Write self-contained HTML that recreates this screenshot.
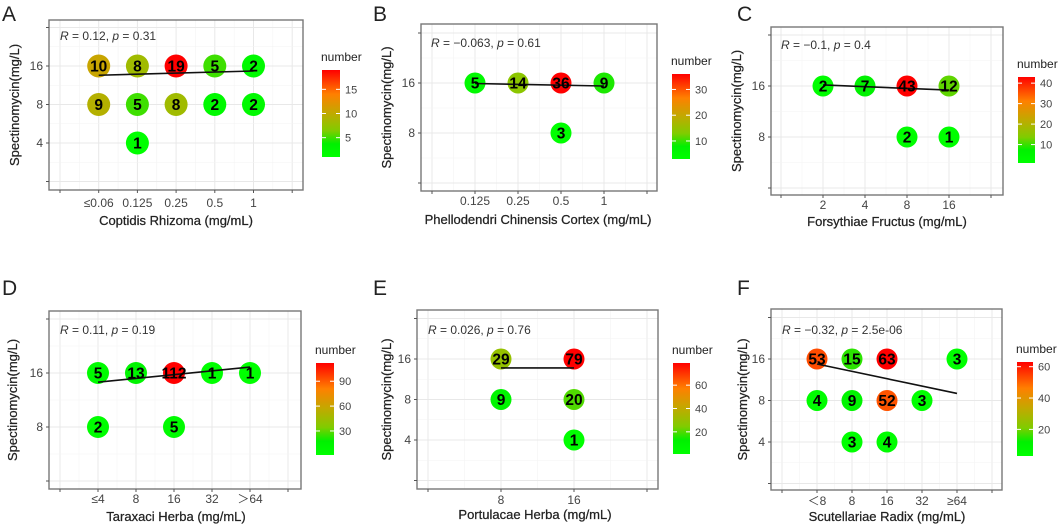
<!DOCTYPE html>
<html><head><meta charset="utf-8">
<style>
html,body{margin:0;padding:0;background:#fff;}
svg{display:block;font-family:"Liberation Sans","DejaVu Sans",sans-serif;}
</style></head>
<body>
<svg id="fig" width="1059" height="525" viewBox="0 0 1059 525" xmlns="http://www.w3.org/2000/svg">
<defs>
<linearGradient id="cg" x1="0" y1="1" x2="0" y2="0">
<stop offset="0" stop-color="#00ff00"/><stop offset="0.15" stop-color="#00f000"/>
<stop offset="0.3" stop-color="#80cc00"/><stop offset="0.5" stop-color="#c0aa00"/>
<stop offset="0.72" stop-color="#ff8000"/><stop offset="1" stop-color="#ff0000"/>
</linearGradient>
</defs>
</svg>
<script>
// Panel A
const catsA=['≤0.06','0.125','0.25','0.5','1'];
const xA=[1,2,3,4,5,1,2,3,4,5,2];
const yA=[16,16,16,16,16,8,8,8,8,8,4];
const nA=[10,8,19,5,2,9,5,8,2,2,1];
const fitA=[3.76,3.87];
const legA=[5,10,15];
// Panel B
const catsB=['0.125','0.25','0.5','1'];
const xB=[1,2,3,4,3];
const yB=[16,16,16,16,8];
const nB=[5,14,36,9,3];
const fitB=[3.99,3.94];
const legB=[10,20,30];
// Panel C
const catsC=['2','4','8','16'];
const xC=[1,2,3,4,3,4];
const yC=[16,16,16,16,8,8];
const nC=[2,7,43,12,2,1];
const fitC=[4.02,3.92];
const legC=[10,20,30,40];
// Panel D
const catsD=['≤4','8','16','32','＞64'];
const xD=[1,2,3,4,5,1,3];
const yD=[16,16,16,16,16,8,8];
const nD=[5,13,112,1,1,2,5];
const fitD=[3.83,4.11];
const legD=[30,60,90];
// Panel E
const catsE=['8','16'];
const xE=[1,2,1,2,2];
const yE=[16,16,8,8,4];
const nE=[29,79,9,20,1];
const fitE=[3.78,3.78];
const legE=[20,40,60];
// Panel F
const catsF=['＜8','8','16','32','≥64'];
const xF=[1,2,3,5,1,2,3,4,2,3];
const yF=[16,16,16,16,8,8,8,8,4,4];
const nF=[53,15,63,3,4,9,52,3,3,4];
const fitF=[3.88,3.17];
const legF=[20,40,60];

const NS='http://www.w3.org/2000/svg';
const svg=document.getElementById('fig');
function mk(tag,attrs,parent,text){const e=document.createElementNS(NS,tag);for(const k in attrs)e.setAttribute(k,attrs[k]);if(text!==undefined)e.textContent=text;(parent||svg).appendChild(e);return e;}
const stops=[[0,[0,255,0]],[0.15,[0,240,0]],[0.3,[128,204,0]],[0.5,[200,165,0]],[0.72,[255,128,0]],[1,[255,0,0]]];
function col(t){t=Math.max(0,Math.min(1,t));for(let i=1;i<stops.length;i++){if(t<=stops[i][0]){const a=stops[i-1],b=stops[i];const f=(t-a[0])/(b[0]-a[0]);const c=a[1].map((v,j)=>Math.round(v+(b[1][j]-v)*f));return 'rgb('+c.join(',')+')';}}return 'rgb(255,0,0)';}

function panel(P){
  const g=mk('g',{});
  
  
  const xs=i=>P.x0+i*P.xs;
  const ys=v=>P.y16-(Math.log2(v)-4)*P.sp;
  const yl=l=>P.y16-(l-4)*P.sp;
  const L=mk('text',{x:P.lx,y:P.ly,'font-size':21,fill:'#222'},g,P.id);
  
  mk('rect',{x:P.bx,y:P.by,width:P.bw,height:P.bh,fill:'#fff'},g);
  const n=P.cats.length;
  for(let i=0;i<=n+1;i++){mk('line',{x1:xs(i),x2:xs(i),y1:P.by,y2:P.by+P.bh,stroke:'#e8e8e8','stroke-width':1},g);
    if(i<=n) mk('line',{x1:xs(i+0.5),x2:xs(i+0.5),y1:P.by,y2:P.by+P.bh,stroke:'#f3f3f3','stroke-width':0.6},g);}
  for(let l=P.yLo;l<=5;l++){mk('line',{x1:P.bx,x2:P.bx+P.bw,y1:yl(l),y2:yl(l),stroke:'#e8e8e8','stroke-width':1},g);
    if(l<5) mk('line',{x1:P.bx,x2:P.bx+P.bw,y1:yl(l+0.5),y2:yl(l+0.5),stroke:'#f3f3f3','stroke-width':0.6},g);}
  const br=mk('rect',{x:P.bx,y:P.by,width:P.bw,height:P.bh,fill:'none',stroke:'#777','stroke-width':1.4},g);
  
  for(let i=0;i<=n+1;i++){mk('line',{x1:xs(i),x2:xs(i),y1:P.by+P.bh,y2:P.by+P.bh+3,stroke:'#555'},g);
    if(i>=1&&i<=n){const t=mk('text',{x:xs(i),y:P.tly,'font-size':12,fill:'#444','text-anchor':'middle'},g,P.cats[i-1]);
      }}
  for(let l=P.yLo;l<=5;l++){mk('line',{x1:P.bx-3,x2:P.bx,y1:yl(l),y2:yl(l),stroke:'#555'},g);
    if(l<5&&l>P.yLo){const t=mk('text',{x:P.bx-6,y:yl(l)+4,'font-size':12,fill:'#444','text-anchor':'end'},g,String(Math.pow(2,l)));
      }}
  const xt=mk('text',{x:P.xtx,y:P.xty,'font-size':13,fill:'#222','text-anchor':'middle','stroke':'#222','stroke-width':0.25},g,P.xtitle);
  
  const cy=P.by+P.bh/2;
  const yt=mk('text',{x:0,y:0,'font-size':13,fill:'#222','stroke':'#222','stroke-width':0.25,'text-anchor':'middle',transform:'translate('+(P.ytx+4)+','+cy+') rotate(-90)'},g,'Spectinomycin(mg/L)');
  
  const an=mk('text',{x:P.ax,y:P.ay,'font-size':12,fill:'#333'},g);
  
  mk('tspan',{'font-style':'italic'},an,'R');mk('tspan',{},an,' = '+P.R+', ');mk('tspan',{'font-style':'italic'},an,'p');mk('tspan',{},an,' = '+P.p);
  const mn=Math.min(...P.n),mx=Math.max(...P.n);
  for(let k=0;k<P.n.length;k++){
    const c=mk('circle',{cx:xs(P.x[k]),cy:ys(P.y[k]),r:P.r,fill:col((P.n[k]-mn)/(mx-mn))},g);
    }
  const fl=mk('line',{x1:xs(1),y1:yl(P.fit[0]),x2:xs(n),y2:yl(P.fit[1]),stroke:'#111','stroke-width':1.6},g);
  
  for(let k=0;k<P.n.length;k++){
    const t=mk('text',{x:xs(P.x[k]),y:ys(P.y[k])+5.5,'font-size':15.5,'font-weight':'bold',fill:'#000','text-anchor':'middle'},g,String(P.n[k]));
    }
  const lt=mk('text',{x:P.gx-1,y:P.gy-9,'font-size':12,fill:'#222'},g,'number');
  
  const lb=mk('rect',{x:P.gx,y:P.gy,width:P.gw,height:P.gh,fill:'url(#cg)'},g);
  
  for(const v of P.leg){const yy=P.gy+P.gh*(mx-v)/(mx-mn);
    mk('line',{x1:P.gx+P.gw-4,x2:P.gx+P.gw,y1:yy,y2:yy,stroke:'#fff','stroke-width':1},g);
    mk('line',{x1:P.gx,x2:P.gx+4,y1:yy,y2:yy,stroke:'#fff','stroke-width':1},g);
    const t=mk('text',{x:P.gx+P.gw+5,y:yy+4,'font-size':11,fill:'#444'},g,String(v));
    }
}
panel({id:'A',cats:catsA,x:xA,y:yA,n:nA,fit:fitA,leg:legA,lx:2,ly:21,bx:49,by:20,bw:254,bh:170,x0:60,xs:38.7,y16:66,sp:38.5,yLo:1,r:11.5,
  tly:207,xtx:176,xty:225,xtitle:'Coptidis Rhizoma (mg/mL)',ytx:15,ax:60,ay:40,R:'0.12',p:'0.31',gx:322,gy:70,gw:18,gh:87});
panel({id:'B',cats:catsB,x:xB,y:yB,n:nB,fit:fitB,leg:legB,lx:373,ly:21,bx:421,by:24,bw:236,bh:167,x0:432,xs:43,y16:83,sp:50,yLo:2,r:10.5,
  tly:205,xtx:538,xty:224,xtitle:'Phellodendri Chinensis Cortex (mg/mL)',ytx:387,ax:431,ay:47,R:'−0.063',p:'0.61',gx:672,gy:74,gw:18,gh:85});
panel({id:'C',cats:catsC,x:xC,y:yC,n:nC,fit:fitC,leg:legC,lx:737,ly:21,bx:771,by:27,bw:232,bh:168,x0:781,xs:42,y16:86,sp:51,yLo:2,r:10.5,
  tly:209,xtx:887,xty:226,xtitle:'Forsythiae Fructus (mg/mL)',ytx:737,ax:781,ay:49,R:'−0.1',p:'0.4',gx:1018,gy:77,gw:17,gh:86});
panel({id:'D',cats:catsD,x:xD,y:yD,n:nD,fit:fitD,leg:legD,lx:2,ly:295,bx:49,by:311,bw:252,bh:178,x0:60,xs:38,y16:373,sp:54,yLo:2,r:11,
  tly:503,xtx:176,xty:521,xtitle:'Taraxaci Herba (mg/mL)',ytx:13,ax:60,ay:334,R:'0.11',p:'0.19',gx:316,gy:363,gw:18,gh:92});
panel({id:'E',cats:catsE,x:xE,y:yE,n:nE,fit:fitE,leg:legE,lx:373,ly:295,bx:417,by:310,bw:241,bh:179,x0:428,xs:73,y16:359,sp:40.5,yLo:1,r:10.5,
  tly:504,xtx:535,xty:519,xtitle:'Portulacae Herba (mg/mL)',ytx:387,ax:428,ay:334,R:'0.026',p:'0.76',gx:673,gy:363,gw:17,gh:91});
panel({id:'F',cats:catsF,x:xF,y:yF,n:nF,fit:fitF,leg:legF,lx:737,ly:295,bx:771,by:309,bw:231,bh:181,x0:782,xs:35,y16:359,sp:41.5,yLo:1,r:10.5,
  tly:505,xtx:887,xty:521,xtitle:'Scutellariae Radix (mg/mL)',ytx:743,ax:782,ay:334,R:'−0.32',p:'2.5e-06',gx:1017,gy:362,gw:16,gh:94});
</script>
</body></html>
